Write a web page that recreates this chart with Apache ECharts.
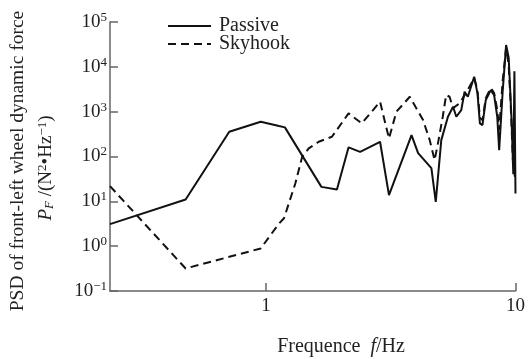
<!DOCTYPE html>
<html>
<head>
<meta charset="utf-8">
<script src="https://cdn.jsdelivr.net/npm/echarts@6/dist/echarts.min.js"></script>
<style>
html,body{margin:0;padding:0;background:#fff;}
#c{width:528px;height:359px;}
</style>
</head>
<body>
<div id="c"></div>
<script>
// Frequencies (Hz) and PSD values
var passiveF = [0.2368, 0.476, 0.712, 0.952, 1.127, 1.19, 1.667, 1.924, 2.142, 2.383, 2.864, 3.11, 3.83, 4.07, 4.6, 4.79, 5.04, 5.36, 5.62, 5.79, 6.06, 6.25, 6.44, 6.83, 7.04, 7.2, 7.37, 7.6, 7.96, 8.21, 8.45, 8.6, 8.89, 9.17, 9.39, 9.5, 9.65, 9.8, 9.9, 10];
var passiveP = [3.1, 11, 356, 595, 477, 446, 21, 18.4, 160, 127, 213, 13.7, 300, 119, 55, 9.7, 232, 770, 1285, 770, 1086, 2780, 2150, 6010, 2560, 548, 500, 1820, 3030, 2340, 770, 139, 3000, 30700, 16000, 4000, 600, 40, 8000, 15];
var skyhookF = [0.2368, 0.476, 0.952, 1.127, 1.18, 1.31, 1.395, 1.483, 1.626, 1.837, 2.142, 2.42, 2.864, 3.11, 3.33, 3.77, 4.26, 4.53, 4.74, 4.89, 5.11, 5.27, 5.44, 5.62, 5.96, 6.32, 6.83, 7.04, 7.2, 7.37, 7.6, 7.96, 8.21, 8.45, 8.6, 8.89, 9.17, 9.39, 9.55, 9.76, 9.95];
var skyhookP = [21.8, 0.318, 0.89, 3.2, 4.2, 25, 98, 152, 213, 276, 917, 548, 1664, 253, 995, 2150, 650, 232, 83, 199, 770, 2350, 2150, 1200, 1530, 2560, 5620, 3030, 720, 650, 2000, 3380, 2600, 1090, 390, 5100, 26000, 11000, 1800, 83, 35];
var seriesNames = ['Passive', 'Skyhook'];
var xTickLabels = {1: '1', 10: '10'};

function pairs(f, p) { return f.map(function (v, i) { return [v, p[i]]; }); }

var serif = 'Liberation Serif';
var chart = echarts.init(document.getElementById('c'), null, {renderer: 'canvas'});
chart.setOption({
  animation: false,
  backgroundColor: '#fff',
  grid: {left: 110, right: 10, top: 22, bottom: 68, containLabel: false},
  legend: {
    orient: 'vertical', left: 167, top: 16, padding: 0, itemWidth: 43, itemHeight: 14, itemGap: -2,
    data: seriesNames,
    itemStyle: {opacity: 0},
    textStyle: {fontFamily: serif, fontSize: 20, color: '#222', padding: [0, 0, 0, 3]}
  },
  xAxis: {
    type: 'log', logBase: 10, min: 0.2368, max: 10,
    axisLine: {lineStyle: {color: '#666', width: 1.5}},
    axisTick: {inside: true, length: 8, lineStyle: {color: '#666', width: 1.5}},
    splitLine: {show: false},
    axisLabel: {
      showMinLabel: false, margin: 6, fontFamily: serif, fontSize: 19, color: '#222',
      formatter: function (v) { var k = Math.round(v * 1000) / 1000; return xTickLabels[k] || ''; }
    }
  },
  yAxis: {
    type: 'log', logBase: 10, min: 0.1, max: 100000,
    axisLine: {lineStyle: {color: '#666', width: 1.5}},
    axisTick: {inside: true, length: 8, lineStyle: {color: '#666', width: 1.5}},
    splitLine: {show: false},
    axisLabel: {
      margin: 3, fontFamily: serif, fontSize: 19, color: '#222',
      formatter: function (v) {
        var e = Math.round(Math.log10(v));
        return '10{e|' + (e < 0 ? '\u2212' + (-e) : e) + '}';
      },
      rich: {e: {fontFamily: serif, fontSize: 13, color: '#222', verticalAlign: 'top', padding: [0, 0, 9, 0]}}
    }
  },
  series: [
    {name: seriesNames[0], type: 'line', symbol: 'none', data: pairs(passiveF, passiveP),
     lineStyle: {color: '#111', width: 2, type: 'solid'}, itemStyle: {color: '#111'}},
    {name: seriesNames[1], type: 'line', symbol: 'none', data: pairs(skyhookF, skyhookP),
     lineStyle: {color: '#111', width: 2, type: [8, 5]}, itemStyle: {color: '#111'}}
  ],
  graphic: [
    {type: 'text', x: 18, y: 161, rotation: Math.PI / 2,
     style: {text: 'PSD of front-left wheel dynamic force', font: '19.5px "Liberation Serif"', fill: '#222', align: 'center', verticalAlign: 'middle'}},
    {type: 'text', x: 46, y: 168, rotation: Math.PI / 2,
     style: {
       text: '{i|P}{sub|F} /(N{sup|2}\u2022Hz{sup|\u22121})', font: '19px "Liberation Serif"', fill: '#222', align: 'center', verticalAlign: 'middle',
       rich: {
         i: {fontFamily: serif, fontSize: 19, fontStyle: 'italic', fill: '#222'},
         sub: {fontFamily: serif, fontSize: 13, fontStyle: 'italic', fill: '#222', verticalAlign: 'bottom', padding: [7, 0, 0, 0]},
         sup: {fontFamily: serif, fontSize: 13, fill: '#222', verticalAlign: 'top', padding: [0, 0, 7, 0]}
       }
     }},
    {type: 'text', x: 341, y: 347,
     style: {
       text: 'Frequence  {i|f}/Hz', font: '20px "Liberation Serif"', fill: '#222', align: 'center', verticalAlign: 'middle',
       rich: {i: {fontFamily: serif, fontSize: 20, fontStyle: 'italic', fill: '#222'}}
     }}
  ]
});
</script>
</body>
</html>
